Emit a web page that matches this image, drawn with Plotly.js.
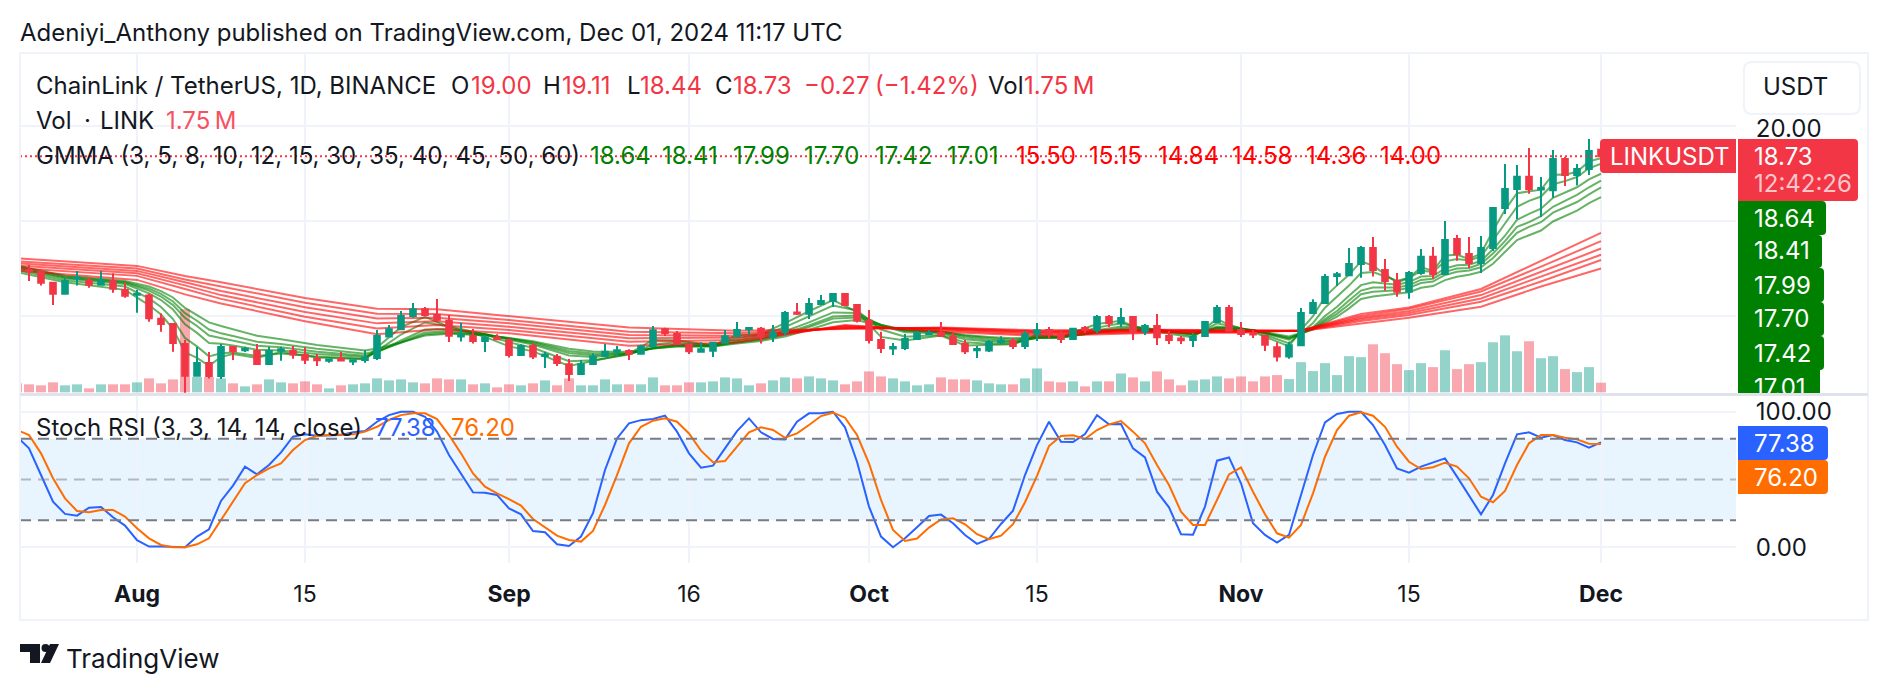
<!DOCTYPE html>
<html><head><meta charset="utf-8">
<script src="https://cdn.plot.ly/plotly-3.0.1.min.js"></script>
<style>html,body{margin:0;padding:0;background:#fff}#wrap{position:relative;width:1888px;height:690px;overflow:hidden}#cut{position:absolute;left:1738px;top:393px;width:100px;height:3px;background:#e0e3eb}</style>
</head><body><div id="wrap"><div id="chart" style="width:1888px;height:690px"></div><div id="cut"></div></div>
<script>
const firstDay = '2024-07-22';
const open = [14.77,13.94,13.86,13.40,12.94,13.58,13.50,13.32,13.46,13.10,
12.90,12.86,11.88,11.66,10.82,9.48,10.02,9.47,10.70,10.56,10.53,9.98,10.54,10.53,10.36,10.20,10.12,10.20,10.08,10.15,10.23,11.14,11.44,12.00,12.28,12.04,11.80,11.14,11.16,10.95,11.10,
10.98,10.36,10.74,10.32,10.28,9.97,9.56,9.98,10.32,10.50,10.53,10.41,10.73,11.44,11.24,10.80,10.50,10.54,10.87,11.15,11.44,11.46,11.12,11.32,12.15,12.09,12.51,12.63,12.93,12.46,
11.80,10.99,10.63,10.65,11.03,11.24,11.29,11.14,10.82,10.56,10.55,10.88,10.95,10.74,11.24,11.41,11.23,11.03,11.50,11.40,11.96,11.70,11.96,11.34,11.58,11.16,11.05,10.99,11.16,11.75,12.34,
11.41,11.28,11.16,10.68,10.29,10.77,12.13,12.55,13.68,13.72,14.19,14.86,13.94,13.47,13.02,13.81,14.49,13.77,15.24,14.61,14.23,14.86,16.55,17.35,17.86,17.33,17.30,18.61,17.94,18.19,19.00];
const high = [14.85,14.15,13.97,13.43,13.59,13.90,13.60,13.90,13.80,13.42,
13.10,12.95,12.11,11.71,10.99,10.70,10.48,10.82,10.74,10.71,10.82,10.71,10.71,10.74,10.68,10.40,10.20,10.48,10.17,10.57,11.41,11.62,12.21,12.55,12.38,12.72,12.04,11.72,11.45,11.19,11.23,
11.05,10.81,10.85,10.50,10.40,10.19,10.15,10.43,10.82,10.74,10.60,10.79,11.58,11.51,11.37,10.85,10.90,10.91,11.41,11.75,11.54,11.54,11.62,12.21,12.55,12.76,12.88,12.97,12.97,12.47,
12.25,11.34,10.86,11.24,11.37,11.41,11.75,11.28,10.99,10.74,10.99,11.15,11.07,11.37,11.71,11.54,11.37,11.48,11.58,12.04,12.04,12.34,12.00,11.66,12.08,11.37,11.16,11.28,11.79,12.46,12.46,
11.75,11.41,11.20,10.89,10.92,12.34,12.71,13.77,13.85,14.86,14.95,15.33,14.40,13.81,13.90,14.82,14.91,16.00,15.41,15.33,15.37,16.59,18.40,18.36,19.07,17.85,18.99,18.69,18.40,19.45,19.11];
const low = [13.87,13.47,13.28,12.46,12.90,13.28,13.19,13.28,12.98,12.77,
12.14,11.76,11.34,10.50,8.77,9.44,9.37,9.35,10.15,10.48,9.94,9.94,10.12,10.20,9.98,9.89,10.03,10.08,9.94,10.03,10.15,11.10,11.40,11.93,12.00,11.76,10.91,10.93,10.84,10.48,10.98,
10.25,10.32,10.19,9.81,9.90,9.26,9.52,9.95,10.30,10.32,10.15,10.37,10.72,11.16,10.78,10.40,10.46,10.27,10.85,11.13,11.20,10.84,10.91,11.20,12.04,11.87,12.46,12.38,12.42,11.73,
10.84,10.44,10.36,10.57,10.99,11.20,11.12,10.78,10.40,10.23,10.48,10.82,10.61,10.61,10.95,11.07,10.86,10.99,11.28,11.28,11.54,11.54,10.99,11.20,10.78,10.82,10.82,10.70,11.14,11.72,11.34,
11.12,11.07,10.53,10.08,10.20,10.75,12.10,12.52,13.26,13.68,13.61,13.66,13.07,12.81,12.73,13.74,13.57,13.75,14.33,14.02,13.81,14.74,16.30,16.08,17.15,16.17,16.98,17.47,17.50,17.94,18.44];
const close = [13.91,13.87,13.40,12.94,13.48,13.62,13.32,13.48,13.15,12.85,
12.94,11.91,11.66,10.86,9.48,10.02,9.47,10.70,10.52,10.62,9.98,10.53,10.60,10.38,10.16,10.14,10.17,10.13,10.14,10.23,11.16,11.44,12.00,12.28,12.04,11.84,11.17,11.20,10.95,11.09,11.02,
10.36,10.74,10.30,10.38,10.02,9.56,9.97,10.30,10.49,10.56,10.41,10.73,11.40,11.28,10.82,10.52,10.60,10.87,11.15,11.41,11.50,11.14,11.32,12.13,12.09,12.51,12.63,12.93,12.46,11.80,
10.99,10.65,10.69,11.03,11.27,11.30,11.16,10.82,10.52,10.61,10.91,10.96,10.74,11.24,11.40,11.24,11.03,11.46,11.42,11.96,11.70,11.92,11.34,11.58,11.11,10.99,10.98,11.12,11.75,12.34,11.38,
11.24,11.22,10.79,10.29,10.77,12.13,12.55,13.64,13.76,14.19,14.86,13.94,13.47,13.02,13.81,14.49,13.77,15.20,14.61,14.23,14.86,16.55,17.35,17.86,17.34,17.39,18.61,17.94,18.19,18.95,18.73];
const volumeM = [1.63,1.45,1.27,1.81,1.27,1.45,0.72,1.45,1.45,1.45,
1.81,2.53,1.63,2.35,15.12,2.77,2.77,2.53,1.63,1.08,1.45,2.35,1.81,1.63,1.99,1.45,0.72,1.27,1.45,1.63,2.53,2.17,2.35,1.81,1.63,2.53,2.35,2.35,1.45,1.63,0.90,
1.45,1.27,1.63,2.17,1.27,2.53,1.27,1.27,2.35,1.45,1.45,1.45,2.71,1.27,1.27,1.81,1.81,1.99,2.71,2.53,1.27,1.63,2.17,2.71,2.53,2.89,2.53,2.17,1.45,1.99,
3.80,2.89,2.53,1.99,1.27,1.45,2.71,2.35,2.35,2.17,1.63,1.45,1.45,2.53,4.34,1.99,1.81,1.99,1.08,1.99,1.99,3.43,2.71,1.99,3.80,2.35,1.27,2.17,2.35,2.89,2.53,
2.89,1.99,2.89,3.13,2.41,5.48,3.86,5.30,3.13,6.57,6.39,8.73,7.11,5.12,4.04,5.30,4.58,7.65,4.22,5.12,5.48,9.10,10.36,7.47,9.28,6.20,6.57,4.22,3.67,4.58,1.75];
const fastDates = ['2024-07-22','2024-07-26','2024-07-31','2024-08-02','2024-08-03','2024-08-04','2024-08-05','2024-08-06','2024-08-07','2024-08-08','2024-08-09','2024-08-11','2024-08-13','2024-08-16','2024-08-20','2024-08-21','2024-08-23','2024-08-25','2024-08-27','2024-08-30','2024-09-01','2024-09-03','2024-09-06','2024-09-08','2024-09-11','2024-09-13','2024-09-15','2024-09-18','2024-09-20','2024-09-22','2024-09-24','2024-09-26','2024-09-28','2024-09-30','2024-10-02','2024-10-04','2024-10-07','2024-10-09','2024-10-11','2024-10-13','2024-10-15','2024-10-17','2024-10-20','2024-10-22','2024-10-23','2024-10-25','2024-10-28','2024-10-30','2024-10-31','2024-11-02','2024-11-05','2024-11-06','2024-11-07','2024-11-08','2024-11-09','2024-11-10','2024-11-11','2024-11-12','2024-11-14','2024-11-15','2024-11-16','2024-11-17','2024-11-18','2024-11-19','2024-11-20','2024-11-21','2024-11-22','2024-11-23','2024-11-24','2024-11-25','2024-11-26','2024-11-27','2024-11-28','2024-11-29','2024-11-30','2024-12-01'];
const ema3 = [13.85,13.42,13.10,12.46,12.06,11.46,10.47,10.24,9.90,10.28,10.40,10.24,10.48,10.25,10.18,10.67,11.53,11.97,11.54,11.12,10.72,10.51,9.90,10.12,10.42,10.99,10.98,10.77,11.19,11.24,11.70,12.20,12.67,12.18,11.12,10.97,11.18,10.76,10.80,10.81,11.21,11.13,11.66,11.80,11.57,11.34,11.10,11.88,11.63,11.33,10.72,11.42,11.99,12.81,13.29,13.74,14.30,14.12,13.41,13.61,14.05,13.91,14.55,14.58,14.40,14.63,15.59,16.47,17.17,17.25,17.32,17.96,17.95,18.07,18.51,18.64];
const ema5 = [13.93,13.50,13.24,12.74,12.38,11.87,11.07,10.72,10.30,10.43,10.46,10.32,10.42,10.30,10.20,10.52,11.22,11.73,11.57,11.22,10.89,10.66,10.10,10.14,10.38,10.79,10.91,10.77,11.07,11.19,11.53,11.98,12.44,12.23,11.43,11.13,11.20,10.89,10.83,10.83,11.11,11.11,11.51,11.69,11.57,11.42,11.16,11.69,11.59,11.38,10.85,11.28,11.70,12.35,12.82,13.28,13.81,13.85,13.49,13.60,13.90,13.86,14.30,14.40,14.34,14.51,15.19,15.91,16.60,16.85,17.03,17.55,17.68,17.85,18.22,18.41];
const ema8 = [14.00,13.58,13.35,12.95,12.67,12.27,11.65,11.29,10.86,10.83,10.76,10.58,10.55,10.40,10.27,10.47,10.97,11.43,11.45,11.24,11.00,10.80,10.34,10.27,10.40,10.66,10.80,10.75,10.98,11.11,11.36,11.73,12.15,12.13,11.60,11.32,11.27,11.02,10.93,10.89,11.07,11.09,11.40,11.56,11.52,11.43,11.22,11.56,11.52,11.41,11.00,11.25,11.53,12.00,12.39,12.85,13.30,13.42,13.32,13.43,13.66,13.68,14.00,14.14,14.16,14.32,14.81,15.38,16.05,16.30,16.52,16.98,17.20,17.42,17.75,17.99];
const ema10 = [14.05,13.62,13.40,13.07,12.82,12.46,11.92,11.58,11.18,11.07,10.97,10.75,10.68,10.50,10.33,10.48,10.90,11.31,11.36,11.23,11.04,10.85,10.44,10.35,10.42,10.65,10.77,10.74,10.92,11.04,11.28,11.60,11.98,12.02,11.63,11.38,11.32,11.11,11.00,10.94,11.07,11.09,11.34,11.48,11.46,11.42,11.24,11.51,11.49,11.40,11.05,11.25,11.48,11.87,12.21,12.65,13.07,13.20,13.20,13.30,13.52,13.57,13.86,14.00,14.02,14.20,14.63,15.15,15.75,15.95,16.20,16.60,16.86,17.10,17.42,17.70];
const ema12 = [14.10,13.66,13.43,13.15,12.93,12.61,12.12,11.80,11.43,11.27,11.16,10.92,10.82,10.62,10.41,10.53,10.87,11.23,11.29,11.21,11.06,10.90,10.53,10.42,10.44,10.63,10.74,10.73,10.88,11.00,11.22,11.53,11.89,11.94,11.62,11.42,11.35,11.17,11.07,11.00,11.10,11.10,11.31,11.44,11.42,11.39,11.25,11.49,11.47,11.40,11.09,11.25,11.45,11.79,12.09,12.48,12.92,13.02,13.08,13.19,13.39,13.45,13.73,13.86,13.92,14.05,14.44,14.95,15.50,15.75,15.95,16.35,16.58,16.80,17.12,17.42];
const ema15 = [14.12,13.70,13.47,13.24,13.05,12.78,12.34,12.05,11.73,11.58,11.44,11.17,11.02,10.78,10.55,10.63,10.89,11.18,11.25,11.19,11.07,10.94,10.62,10.51,10.49,10.63,10.72,10.72,10.84,10.95,11.14,11.42,11.74,11.83,11.56,11.39,11.34,11.20,11.12,11.06,11.12,11.12,11.29,11.41,11.40,11.38,11.26,11.46,11.45,11.39,11.14,11.27,11.43,11.71,11.97,12.32,12.72,12.82,12.92,13.00,13.19,13.26,13.51,13.65,13.74,13.86,14.20,14.68,15.20,15.40,15.60,15.98,16.20,16.44,16.75,17.01];
const slowDates = ['2024-07-22','2024-08-01','2024-08-05','2024-08-08','2024-08-15','2024-08-21','2024-08-26','2024-09-01','2024-09-11','2024-09-20','2024-09-29','2024-10-07','2024-10-15','2024-10-25','2024-11-01','2024-11-06','2024-11-11','2024-11-15','2024-11-21','2024-11-26','2024-12-01'];
const ema30 = [13.91,13.52,12.91,12.53,11.78,11.23,11.44,11.27,10.75,10.88,11.62,11.34,11.16,11.30,11.30,11.39,12.08,12.36,13.14,14.32,15.50];
const ema35 = [14.02,13.69,13.14,12.72,11.97,11.47,11.62,11.41,10.92,10.99,11.59,11.40,11.22,11.33,11.33,11.39,12.00,12.30,13.03,14.08,15.15];
const ema40 = [14.12,13.80,13.29,12.88,12.17,11.69,11.78,11.55,11.06,11.09,11.55,11.44,11.28,11.36,11.35,11.38,11.93,12.21,12.88,13.87,14.84];
const ema45 = [14.22,13.90,13.42,13.05,12.37,11.90,11.93,11.69,11.20,11.17,11.51,11.47,11.32,11.38,11.37,11.38,11.86,12.13,12.74,13.66,14.58];
const ema50 = [14.30,14.00,13.54,13.24,12.56,12.10,12.08,11.83,11.34,11.27,11.48,11.50,11.36,11.40,11.38,11.37,11.79,12.04,12.60,13.45,14.36];
const ema60 = [14.43,14.11,13.68,13.42,12.76,12.31,12.28,12.00,11.52,11.38,11.44,11.52,11.40,11.42,11.40,11.37,11.68,11.93,12.39,13.24,14.00];
const stochK = [81.6,73.0,53.3,33.7,24.6,23.3,29.2,29.7,22.1,16.0,5.2,0.5,0.5,0,0,7.9,13.3,34.2,45.5,59.5,53.8,60.7,70.0,81.6,83.3,82.3,82.3,82.8,84.8,85.7,92.6,97.5,100,100,96.3,85.3,68.1,54.1,40.5,40.3,38.6,28.7,24.3,12.0,11.1,2.2,1.0,7.9,25.1,57.0,80.3,91.4,93.8,94.6,97.1,85.3,69.3,58.7,60.2,73.0,85.7,95.1,84.8,79.9,79.6,92.6,98.8,98.8,100,88.5,63.1,30.0,7.9,0,6.6,14.7,23.1,24.1,17.7,9.1,2.5,6.1,17.2,27.0,53.3,75.4,92.6,77.9,77.6,83.5,97.5,90.7,90.9,73.0,66.3,41.0,29.5,9.6,9.3,30.0,63.9,66.3,47.2,17.7,9.1,3.4,9.1,38.6,68.1,92.1,98.3,100,100,90.2,75.4,58.2,55.0,59.5,62.4,65.6,52.1,38.6,24.3,38.6,61.9,83.3,84.8,80.8,82.8,79.1,77.4,73.5,77.38];
const stochD = [86.5,82.8,69.3,50.9,36.1,26.8,25.8,27.5,27.5,22.6,14.0,6.6,1.7,0,0,2.2,6.6,20.1,33.2,47.2,53.3,58.2,61.9,71.7,79.1,82.3,82.8,82.8,83.3,85.3,88.9,93.9,97.5,98.8,98.8,94.6,82.8,69.3,54.5,44.7,39.8,35.6,30.7,20.9,14.5,8.6,5.4,4.2,12.0,31.2,53.3,76.7,88.9,93.4,95.1,92.6,84.0,71.3,62.7,63.6,74.2,84.8,88.5,86.5,80.8,84.0,90.2,96.8,99.3,95.6,82.8,61.9,34.9,12.8,4.7,6.4,14.5,20.6,21.4,17.0,9.6,5.9,8.6,17.0,33.2,52.6,74.7,82.1,82.6,79.9,86.5,90.7,93.1,85.3,76.7,60.7,45.9,26.3,16.5,16.5,34.9,53.8,59.0,41.0,24.3,10.3,7.1,16.5,39.8,66.8,86.5,97.1,99.5,97.1,88.9,74.2,63.1,57.7,59.0,62.4,59.5,50.9,37.3,33.2,41.5,60.7,76.7,82.8,82.8,80.8,79.6,76.4,76.20];
const lastPrice = 18.73;
const fastValues = ['18.64','18.41','17.99','17.70','17.42','17.01'];
const slowValues = ['15.50','15.15','14.84','14.58','14.36','14.00'];
const tickDates = ['2024-08-01','2024-08-15','2024-09-01','2024-09-16','2024-10-01','2024-10-15','2024-11-01','2024-11-15','2024-12-01'];
const tickLabels = ['<b>Aug</b>','15','<b>Sep</b>','16','<b>Oct</b>','15','<b>Nov</b>','15','<b>Dec</b>'];
const priceTicks = [20,16,12];
const priceTickLabels = ['20.00','',''];
const stochTicks = [100,0];
const stochTickLabels = ['100.00','0.00'];

const W=1888,H=690,FONT='Inter, sans-serif',INK='#131722',GRID='#f0f3fa';
const UP='#089981',DOWN='#F23645',GREEN='#008000',RED='#FF0000',BLUE='#2962FF',ORANGE='#FF6D00';
const px=x=>x/W, py=y=>1-y/H;
const dates=close.map((_,i)=>new Date(Date.parse(firstDay+'T00:00:00Z')+i*864e5).toISOString().slice(0,10));
const volColors=close.map((c,i)=>c>=open[i]?'rgba(8,153,129,0.43)':'rgba(242,54,69,0.43)');

const traces=[{type:'bar',x:dates,y:volumeM,xaxis:'x',yaxis:'y',width:0.83*864e5,marker:{color:volColors,line:{width:0}},hoverinfo:'skip'}];
[ema3,ema5,ema8,ema10,ema12,ema15].forEach(v=>traces.push({type:'scatter',mode:'lines',x:fastDates,y:v,xaxis:'x',yaxis:'y2',line:{color:'rgba(0,128,0,0.6)',width:2},hoverinfo:'skip'}));
[ema30,ema35,ema40,ema45,ema50,ema60].forEach(v=>traces.push({type:'scatter',mode:'lines',x:slowDates,y:v,xaxis:'x',yaxis:'y2',line:{color:'rgba(255,0,0,0.6)',width:2},hoverinfo:'skip'}));
traces.push({type:'candlestick',x:dates,open,high,low,close,xaxis:'x',yaxis:'y3',whiskerwidth:0,
  increasing:{line:{color:UP,width:2},fillcolor:UP},decreasing:{line:{color:DOWN,width:2},fillcolor:DOWN},hoverinfo:'skip'});
traces.push({type:'scatter',mode:'lines',x:dates,y:stochK,xaxis:'x',yaxis:'y4',line:{color:BLUE,width:2},hoverinfo:'skip'});
traces.push({type:'scatter',mode:'lines',x:dates,y:stochD,xaxis:'x',yaxis:'y4',line:{color:ORANGE,width:2},hoverinfo:'skip'});

function rr(x0,y0,x1,y1,rl,rr_,fill,stroke){
  const X=px,Y=py;
  const d='M'+X(x0+rl)+','+Y(y0)+' L'+X(x1-rr_)+','+Y(y0)+' Q'+X(x1)+','+Y(y0)+' '+X(x1)+','+Y(y0+rr_)+
    ' L'+X(x1)+','+Y(y1-rr_)+' Q'+X(x1)+','+Y(y1)+' '+X(x1-rr_)+','+Y(y1)+' L'+X(x0+rl)+','+Y(y1)+
    ' Q'+X(x0)+','+Y(y1)+' '+X(x0)+','+Y(y1-rl)+' L'+X(x0)+','+Y(y0+rl)+' Q'+X(x0)+','+Y(y0)+' '+X(x0+rl)+','+Y(y0)+' Z';
  return {type:'path',xref:'paper',yref:'paper',path:d,fillcolor:fill,line:{color:stroke||fill,width:stroke?2:0},layer:'above'};
}
function poly(pts,fill){return {type:'path',xref:'paper',yref:'paper',path:'M'+pts.map(p=>px(p[0])+','+py(p[1])).join(' L')+' Z',fillcolor:fill,line:{width:0},layer:'above'};}
const hl=(v,c)=>({type:'line',xref:'x domain',x0:0,x1:1,yref:'y4',y0:v,y1:v,line:{color:c,width:2,dash:'11px,7px'},layer:'above'});
const shapes=[
 {type:'rect',xref:'x domain',x0:0,x1:1,yref:'y4',y0:20,y1:80,fillcolor:'rgba(33,150,243,0.1)',line:{width:0},layer:'below'},
 hl(80,'#787B86'),hl(50,'rgba(120,123,134,0.5)'),hl(20,'#787B86'),
 {type:'line',xref:'x domain',x0:0,x1:1,yref:'y2',y0:lastPrice,y1:lastPrice,line:{color:DOWN,width:2,dash:'2px,3px'},layer:'above'},
 {type:'rect',xref:'paper',yref:'paper',x0:px(20),x1:px(1868),y0:py(53),y1:py(620),line:{color:GRID,width:2},layer:'above'},
 {type:'rect',xref:'paper',yref:'paper',x0:px(20),x1:px(1868),y0:py(393),y1:py(396),fillcolor:'#e0e3eb',line:{width:0},layer:'above'},
 rr(1744,62,1860,114,8,8,'#ffffff',GRID),
 rr(1600,139,1736,173,4,0,DOWN),
 rr(1738,139,1858,201,0,4,DOWN),
 rr(1738,201,1826,235,0,4,GREEN),
 rr(1738,235,1822,268,0,4,GREEN),
 rr(1738,268,1824,302,0,4,GREEN),
 rr(1738,302,1824,336,0,4,GREEN),
 rr(1738,336,1824,370,0,4,GREEN),
 {type:'rect',xref:'paper',yref:'paper',x0:px(1738),x1:px(1820),y0:py(370),y1:py(393),fillcolor:GREEN,line:{width:0},layer:'above'},
 rr(1738,426,1828,460,0,4,BLUE),
 rr(1738,460,1828,494,0,4,ORANGE),
 poly([[20,644],[40,644],[40,663],[30,663],[30,652],[20,652]],INK),
 {type:'circle',xref:'paper',yref:'paper',x0:px(41.5),x1:px(49.5),y0:py(644),y1:py(652),fillcolor:INK,line:{width:0},layer:'above'},
 poly([[50,644],[59,644],[50,663],[41,663]],INK)
];
const SZ=24;
function t(x,y,text,color,size,anchor,weight){return {xref:'paper',yref:'paper',x:px(x),y:py(y),text,showarrow:false,xanchor:anchor||'left',yanchor:'middle',align:'left',
  font:{family:FONT,size:size||SZ,color:color||INK,weight:weight||400},borderpad:0,borderwidth:0};}
const annotations=[
 t(20,32,'Adeniyi_Anthony published on TradingView.com, Dec 01, 2024 11:17 UTC'),
 t(36,85,'ChainLink / TetherUS, 1D, BINANCE'),
 t(451,85,'O'),t(471,85,'19.00',DOWN),t(543,85,'H'),t(562,85,'19.11',DOWN),t(627,85,'L'),t(640,85,'18.44',DOWN),
 t(715,85,'C'),t(733,85,'18.73',DOWN),t(804,85,'−0.27',DOWN),t(875,85,'(−1.42%)',DOWN),t(988,85,'Vol'),t(1024,85,'1.75\u2009M',DOWN),
 t(36,120,'Vol'),t(84,120,'·'),t(100,120,'LINK'),t(166,120,'1.75\u2009M','#F7525F'),
 t(36,155,'GMMA (3, 5, 8, 10, 12, 15, 30, 35, 40, 45, 50, 60)'),
 t(590,155,fastValues[0],GREEN),t(662,155,fastValues[1],GREEN),t(733,155,fastValues[2],GREEN),t(804,155,fastValues[3],GREEN),t(875,155,fastValues[4],GREEN),t(947,155,fastValues[5],GREEN),
 t(1016,155,slowValues[0],RED),t(1089,155,slowValues[1],RED),t(1158,155,slowValues[2],RED),t(1232,155,slowValues[3],RED),t(1306,155,slowValues[4],RED),t(1380,155,slowValues[5],RED),
 t(36,427,'Stoch RSI (3, 3, 14, 14, close)'),t(375,427,'77.38',BLUE),t(451,427,'76.20',ORANGE),
 t(1763,87,'USDT'),
 t(1610,156,'LINKUSDT','#fff'),
 t(1754,156,lastPrice.toFixed(2),'#fff'),t(1754,184,'12:42:26','rgba(255,255,255,0.72)'),
 t(1754,218,fastValues[0],'#fff'),t(1754,251,fastValues[1],'#fff'),t(1754,285,fastValues[2],'#fff'),t(1754,319,fastValues[3],'#fff'),t(1754,353,fastValues[4],'#fff'),t(1754,387,fastValues[5],'#fff'),
 t(1754,443,'77.38','#fff'),t(1754,477,'76.20','#fff'),
 t(66,658,'TradingView',INK,26)
];
const xd=[px(20),px(1736)], paneTop=[py(393),py(53)], paneBot=[py(563),py(396)];
const priceRange=[8.758,23.074], volRange=[-0.127,61.69];
const layout={width:W,height:H,margin:{l:0,r:0,t:0,b:0},paper_bgcolor:'#fff',plot_bgcolor:'#fff',showlegend:false,barmode:'overlay',boxgap:0.33,dragmode:false,
 font:{family:FONT,color:INK,size:SZ},
 xaxis:{type:'date',domain:xd,range:['2024-07-22 06:00','2024-12-12 06:00'],anchor:'y4',tickmode:'array',tickvals:tickDates,ticktext:tickLabels,
   showgrid:true,gridcolor:GRID,gridwidth:2,zeroline:false,showline:false,ticks:'outside',ticklen:10,tickcolor:'rgba(0,0,0,0)',tickfont:{family:FONT,size:23,color:INK},rangeslider:{visible:false},fixedrange:true},
 yaxis:{domain:paneTop,range:volRange,anchor:'x',visible:false,fixedrange:true,showgrid:false,zeroline:false},
 yaxis2:{domain:paneTop,range:priceRange,overlaying:'y',anchor:'x',side:'right',tickmode:'array',tickvals:priceTicks,ticktext:priceTickLabels,ticklabelshift:3,showgrid:true,gridcolor:GRID,gridwidth:2,zeroline:false,showline:false,ticks:'outside',ticklen:14,tickcolor:'rgba(0,0,0,0)',tickfont:{family:FONT,size:SZ,color:INK},fixedrange:true},
 yaxis3:{domain:paneTop,range:priceRange,overlaying:'y',anchor:'x',visible:false,fixedrange:true,showgrid:false,zeroline:false},
 yaxis4:{domain:paneBot,range:[-11.6,111.6],anchor:'x',side:'right',tickmode:'array',tickvals:stochTicks,ticktext:stochTickLabels,showgrid:true,gridcolor:GRID,gridwidth:2,zeroline:false,showline:false,ticks:'outside',ticklen:14,tickcolor:'rgba(0,0,0,0)',tickfont:{family:FONT,size:SZ,color:INK},fixedrange:true},
 shapes,annotations};
Plotly.newPlot('chart',traces,layout,{staticPlot:true,displayModeBar:false});
</script></body></html>
